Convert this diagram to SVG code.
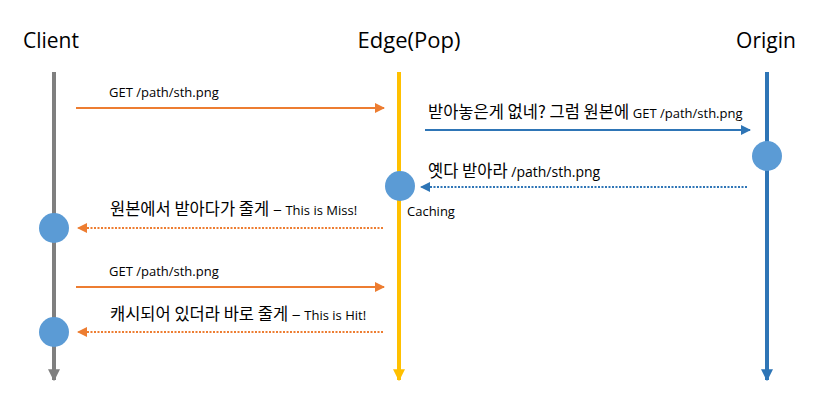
<svg xmlns="http://www.w3.org/2000/svg" width="819" height="413" viewBox="0 0 819 413">
<style>
.title{font-family:"Open Sans","Liberation Sans","Noto Sans CJK KR",sans-serif;font-size:21px;fill:#000;text-anchor:middle}
.lbl{font-family:"Open Sans","Noto Sans CJK KR","Liberation Sans",sans-serif;font-size:13px;fill:#000}
.ko{font-family:"Noto Sans CJK KR","Liberation Sans",sans-serif;font-size:16.5px;fill:#000}
.dot{fill:#5b9bd5}
.o{stroke:#ed7d31;stroke-width:2;fill:none}
.b{stroke:#2e75b6;stroke-width:2;fill:none}
.dash{stroke-dasharray:2 1.5}
</style>
<defs>
<marker id="ao" viewBox="0 0 10 10" refX="9" refY="5" markerWidth="5" markerHeight="5" orient="auto"><path d="M0,0L10,5L0,10z" fill="#ed7d31"/></marker>
<marker id="ab" viewBox="0 0 10 10" refX="9" refY="5" markerWidth="5" markerHeight="5" orient="auto"><path d="M0,0L10,5L0,10z" fill="#2e75b6"/></marker>
<marker id="ag" viewBox="0 0 10 10" refX="9" refY="5" markerWidth="3" markerHeight="3" orient="auto"><path d="M0,0L10,5L0,10z" fill="#7f7f7f"/></marker>
<marker id="ay" viewBox="0 0 10 10" refX="9" refY="5" markerWidth="3" markerHeight="3" orient="auto"><path d="M0,0L10,5L0,10z" fill="#ffc000"/></marker>
<marker id="al" viewBox="0 0 10 10" refX="9" refY="5" markerWidth="3" markerHeight="3" orient="auto"><path d="M0,0L10,5L0,10z" fill="#2e75b6"/></marker>
</defs>
<g id="client">
<text class="title" x="51" y="48">Client</text>
<line x1="54" y1="72" x2="54" y2="380" stroke="#7f7f7f" stroke-width="4" marker-end="url(#ag)"/>
</g>
<g id="edge">
<text class="title" x="409" y="48" style="font-size:22px">Edge(Pop)</text>
<line x1="399" y1="72" x2="399" y2="380" stroke="#ffc000" stroke-width="4" marker-end="url(#ay)"/>
</g>
<g id="origin">
<text class="title" x="766" y="48">Origin</text>
<line x1="767" y1="72" x2="767" y2="380" stroke="#2e75b6" stroke-width="4" marker-end="url(#al)"/>
</g>
<g id="connectors">
<line class="o" x1="76" y1="108" x2="384" y2="108" marker-end="url(#ao)"/>
<text class="lbl" x="109" y="97">GET /path/sth.png</text>
<line class="b" x1="425" y1="130" x2="750" y2="130" marker-end="url(#ab)"/>
<text x="428" y="118"><tspan class="ko">받아놓은게 없네? 그럼 원본에 </tspan><tspan class="lbl">GET /path/sth.png</tspan></text>
<line class="b dash" x1="747" y1="187" x2="421" y2="187" marker-end="url(#ab)"/>
<text x="428" y="177"><tspan class="ko">옛다 받아라 </tspan><tspan class="lbl" style="font-size:14px">/path/sth.png</tspan></text>
<line class="o dash" x1="383" y1="228" x2="78" y2="228" marker-end="url(#ao)"/>
<text x="110" y="215"><tspan class="ko">원본에서 받아다가 줄게 – </tspan><tspan class="lbl">This is Miss!</tspan></text>
<line class="o" x1="76" y1="287" x2="384" y2="287" marker-end="url(#ao)"/>
<text class="lbl" x="109" y="276">GET /path/sth.png</text>
<line class="o dash" x1="383" y1="332" x2="78" y2="332" marker-end="url(#ao)"/>
<text x="110" y="320"><tspan class="ko">캐시되어 있더라 바로 줄게 – </tspan><tspan class="lbl">This is Hit!</tspan></text>
</g>
<g id="origin-dot"><circle class="dot" cx="767" cy="156" r="15"/></g>
<g id="edge-dot"><circle class="dot" cx="400" cy="186" r="15"/><text class="lbl" x="407" y="216">Caching</text></g>
<g id="client-dot1"><circle class="dot" cx="54" cy="228" r="15"/></g>
<g id="client-dot2"><circle class="dot" cx="54" cy="332" r="15"/></g>
</svg>
